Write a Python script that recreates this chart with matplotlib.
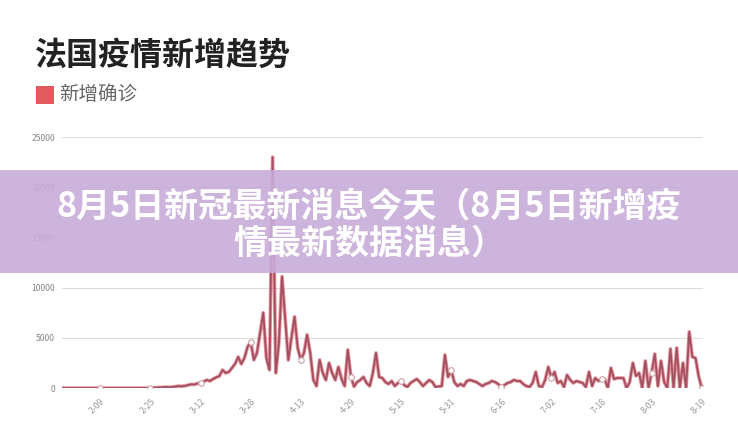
import numpy as np
import pandas as pd
import matplotlib
matplotlib.use('Agg')
import matplotlib.pyplot as plt
import matplotlib.dates as mdates
from matplotlib.patches import Rectangle

plt.rcParams['font.family'] = ['Noto Sans CJK SC', 'DejaVu Sans']

# 数据：法国每日新增确诊
start_date = '2020-01-28'
new_cases = [
    0, 0, 2, 0, 0, 0, 0, 0, 0, 5,
    0, 1, 0, 0, 0, 0, 0, 0, 0, 0,
    0, 0, 0, 0, 0, 0, 0, 2, 20, 30,
    40, 60, 80, 100, 80, 100, 150, 200, 180, 220,
    300, 370, 350, 450, 500, 650, 800, 700, 900, 1070,
    1200, 1800, 1500, 1600, 2000, 2400, 3100, 2400, 3000, 4100,
    4600, 2800, 3500, 5500, 7500, 3000, 1800, 23000, 1500, 4500,
    11100, 7000, 2800, 5000, 7100, 4000, 2800, 3500, 5300, 3500,
    800, 200, 2800, 1500, 800, 2500, 1500, 800, 2100, 900,
    200, 3800, 1100, 150, 600, 800, 1100, 500, 200, 1500,
    3500, 1100, 1000, 600, 400, 700, 200, 500, 700, 300,
    100, 500, 700, 900, 600, 200, 500, 800, 600, 100,
    150, 200, 3300, 1100, 1800, 600, 200, 400, 200, 700,
    800, 700, 600, 400, 200, 400, 500, 700, 600, 400,
    100, 300, 500, 600, 800, 700, 700, 400, 200, 100,
    500, 1600, 200, 100, 800, 2100, 1000, 1600, 500, 700,
    100, 1300, 800, 500, 700, 600, 500, 100, 1600, 200,
    1000, 700, 900, 900, 0, 2000, 900, 1000, 1000, 1000,
    0, 600, 2500, 1200, 1500, 0, 2700, 0, 1500, 3400,
    200, 2700, 600, 0, 3900, 0, 4000, 0, 2500, 0,
    5600, 3100, 3000, 1200, 0,
]
dates = pd.date_range(start_date, periods=len(new_cases), freq='D')

tick_dates = pd.date_range('2020-02-09', '2020-08-19', freq='16D')
tick_labels = [d.strftime('%-m-%d') for d in tick_dates]
y_ticks = [0, 5000, 10000, 15000, 20000, 25000]

title = '法国疫情新增趋势'
legend_label = '新增确诊'
banner_lines = ['8月5日新冠最新消息今天（8月5日新增疫', '情最新数据消息）']

fig = plt.figure(figsize=(7.38, 4.45), dpi=100)
fig.patch.set_facecolor('white')

ax = fig.add_axes([0.084, 0.128, 0.869, 0.564])
ax.plot(dates, new_cases, color='#e0707a', linewidth=2.6, alpha=0.75, zorder=3,
        solid_joinstyle='round')
ax.plot(dates, new_cases, color='#a05060', linewidth=1.3, zorder=4,
        solid_joinstyle='round')

mark_idx = [i for i, d in enumerate(dates) if d in set(tick_dates)]
ax.plot(dates[mark_idx], [new_cases[i] for i in mark_idx], linestyle='none',
        marker='o', markersize=4, markerfacecolor='white',
        markeredgecolor='#c9a0a5', markeredgewidth=0.8, zorder=5)

ax.set_ylim(0, 25000)
ax.set_xlim(dates[0] - pd.Timedelta(hours=6), dates[-1] + pd.Timedelta(hours=12))
ax.set_yticks(y_ticks)
ax.set_yticklabels([str(v) for v in y_ticks], fontsize=6.2, color='#888888')
ax.set_xticks(tick_dates)
ax.set_xticklabels(tick_labels, fontsize=6.2, color='#999999', rotation=45,
                   ha='right', rotation_mode='anchor')
ax.tick_params(axis='both', length=0)
ax.tick_params(axis='x', pad=6)
ax.tick_params(axis='y', pad=5)
ax.grid(axis='y', color='#dddddd', linewidth=0.8)
ax.set_axisbelow(True)
for s in ax.spines.values():
    s.set_visible(False)

# 标题和图例
fig.text(35 / 738, 1 - 56 / 445, title, fontsize=23, fontweight='black',
         color='#222222', va='center', ha='left')
fig.patches.append(Rectangle((36 / 738, 1 - 104 / 445), 18 / 738, 18 / 445,
                             transform=fig.transFigure, facecolor='#e05a5e',
                             edgecolor='none', figure=fig))
fig.text(59 / 738, 1 - 95 / 445, legend_label, fontsize=14, color='#666666',
         va='center', ha='left')

# 紫色横幅
fig.patches.append(Rectangle((0, 1 - 273 / 445), 1, 103 / 445,
                             transform=fig.transFigure, facecolor='#c8acd9',
                             alpha=0.9, edgecolor='none', figure=fig, zorder=10))
fig.text(0.5, 1 - 206 / 445, banner_lines[0], fontsize=24.5, fontweight='black',
         color='white', ha='center', va='center', zorder=11)
fig.text(0.5, 1 - 243 / 445, banner_lines[1], fontsize=24.5, fontweight='black',
         color='white', ha='center', va='center', zorder=11)

fig.savefig('out.png', dpi=100)
